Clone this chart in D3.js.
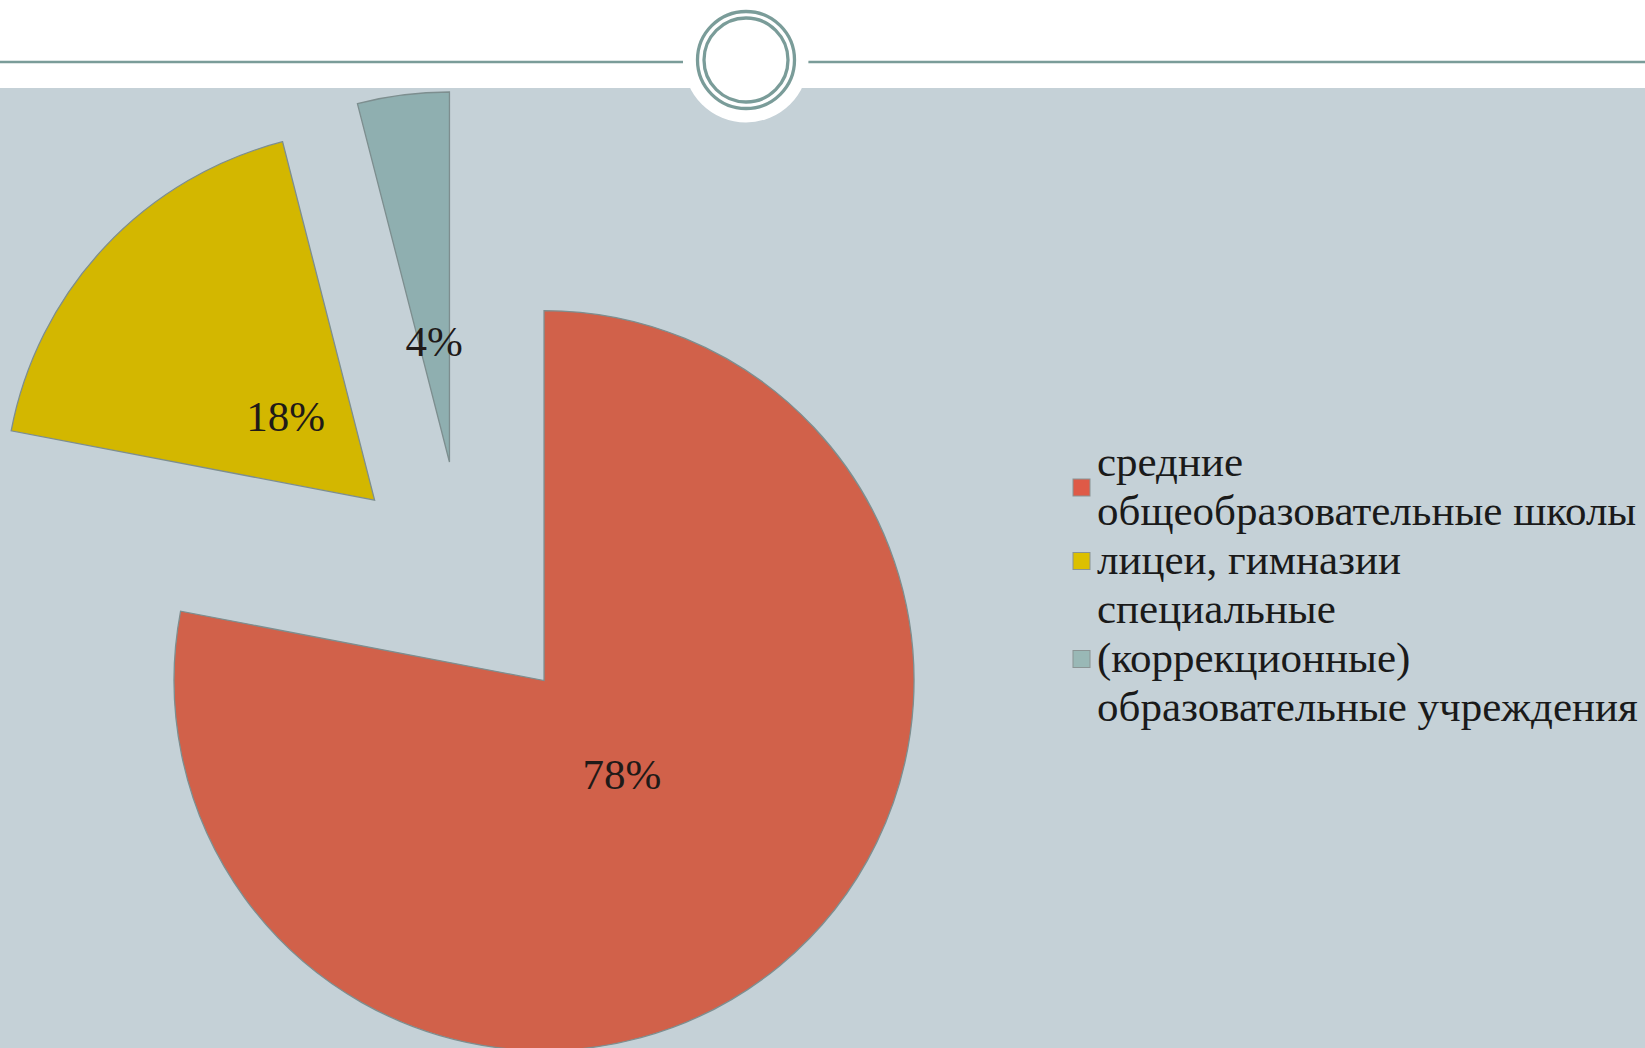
<!DOCTYPE html>
<html>
<head>
<meta charset="utf-8">
<script src="https://cdn.jsdelivr.net/npm/d3@7"></script>
<style>
  body { margin: 0; background: #fff; }
  svg { display: block; }
</style>
</head>
<body>
<div id="chart"></div>
<script>
// data
var categories = ["средние общеобразовательные школы", "лицеи, гимназии", "специальные (коррекционные) образовательные учреждения"];
var legendLines = [["средние", "общеобразовательные школы"], ["лицеи, гимназии"], ["специальные", "(коррекционные)", "образовательные учреждения"]];
var shares = [78, 18, 4];
var sliceColors = ["#d1614a", "#d3b700", "#8fafb0"];
var legendColors = ["#df5a47", "#dcc000", "#99b8b6"];

var width = 1645, height = 1048;
var cx = 465, cy = 585, radius = 370, explode = 124, labelRadius = 246;

var svg = d3.select("#chart").append("svg")
  .attr("width", width)
  .attr("height", height);

/* background + header ornament */
svg.append("rect").attr("x", 0).attr("y", 0).attr("width", width).attr("height", height).attr("fill", "#fff");
svg.append("rect").attr("x", 0).attr("y", 88).attr("width", width).attr("height", height - 88).attr("fill", "#c5d1d7");

var head = svg.append("g");
head.append("line").attr("x1", 0).attr("x2", 683).attr("y1", 62).attr("y2", 62)
  .attr("stroke", "#7a9c99").attr("stroke-width", 2.5);
head.append("line").attr("x1", 808).attr("x2", width).attr("y1", 62).attr("y2", 62)
  .attr("stroke", "#7a9c99").attr("stroke-width", 2.5);
head.append("circle").attr("cx", 746).attr("cy", 60).attr("r", 62.5).attr("fill", "#fff");
head.append("circle").attr("cx", 746).attr("cy", 60).attr("r", 48.5)
  .attr("fill", "none").attr("stroke", "#7a9c99").attr("stroke-width", 3.3);
head.append("circle").attr("cx", 746).attr("cy", 60).attr("r", 42)
  .attr("fill", "none").attr("stroke", "#7a9c99").attr("stroke-width", 3.3);

/* exploded pie */
var pie = d3.pie().sort(null).value(d => d);
var arcs = pie(shares);

var arc = d3.arc().innerRadius(0).outerRadius(radius);

function dir(d) {
  var a = (d.startAngle + d.endAngle) / 2;
  return [Math.sin(a), -Math.cos(a)];
}

var g = svg.append("g").attr("transform", `translate(${cx},${cy})`);

g.selectAll("path.slice")
  .data(arcs).enter()
  .append("path")
  .attr("class", "slice")
  .attr("d", arc)
  .attr("transform", d => {
    var v = dir(d);
    return `translate(${v[0] * explode},${v[1] * explode})`;
  })
  .attr("fill", (d, i) => sliceColors[i])
  .attr("stroke", "#7d8e8f")
  .attr("stroke-width", 1.3);

g.selectAll("text.pct")
  .data(arcs).enter()
  .append("text")
  .attr("class", "pct")
  .attr("x", d => dir(d)[0] * labelRadius)
  .attr("y", d => dir(d)[1] * labelRadius)
  .attr("dy", "0.34em")
  .attr("text-anchor", "middle")
  .attr("font-family", "'Liberation Serif', 'Times New Roman', serif")
  .attr("font-size", 43)
  .attr("fill", "#1f1a18")
  .text(d => d.data + "%");

/* legend */
var legendX = 1097, lineH = 49, firstBase = 476;
var legend = svg.append("g").attr("font-family", "'Liberation Serif', 'Times New Roman', serif")
  .attr("font-size", 43).attr("fill", "#1a1a1a");

var row = 0;
legendLines.forEach(function(lines, i) {
  var bases = lines.map((t, k) => firstBase + (row + k) * lineH);
  lines.forEach(function(t, k) {
    legend.append("text").attr("x", legendX).attr("y", bases[k]).text(t);
  });
  var mid = d3.mean(bases) - 13;
  legend.append("rect")
    .attr("x", legendX - 24).attr("y", mid - 8.5)
    .attr("width", 17).attr("height", 17)
    .attr("fill", legendColors[i])
    .attr("stroke", "#8a9494").attr("stroke-width", 1);
  row += lines.length;
});
</script>
</body>
</html>
